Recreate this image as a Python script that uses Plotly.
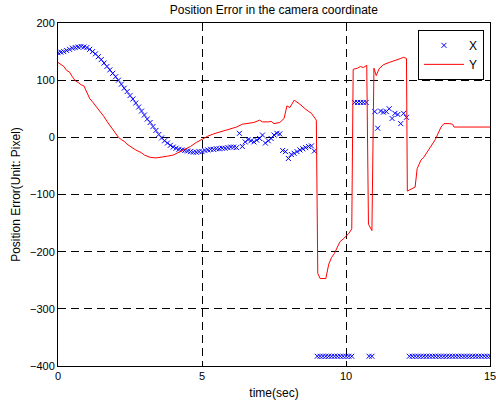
import plotly.graph_objects as go

# X series (blue 'x' markers): time (sec) and position error (pixel)
x_time = [0.0, 0.1, 0.2, 0.3, 0.4, 0.5, 0.6, 0.7, 0.8, 0.9, 1.0, 1.1, 1.2, 1.3, 1.4,
          1.5, 1.6, 1.7, 1.8, 1.9, 2.0, 2.1, 2.2, 2.3, 2.4, 2.5, 2.6, 2.7, 2.8, 2.9,
          3.0, 3.1, 3.2, 3.3, 3.4, 3.5, 3.6, 3.7, 3.8, 3.9, 4.0, 4.1, 4.2, 4.3, 4.4,
          4.5, 4.6, 4.7, 4.8, 4.9, 5.0,
          5.1, 5.2, 5.3, 5.4, 5.5, 5.6, 5.7, 5.8, 5.9, 6.0, 6.1, 6.2, 6.3, 6.4, 6.5,
          6.6, 6.7, 6.8, 6.9, 7.0, 7.1, 7.2, 7.3, 7.4, 7.5, 7.6, 7.7,
          7.8, 7.9, 8.0, 8.1, 8.2, 8.3, 8.4, 8.5, 8.6, 8.7, 8.8, 8.9,
          9.0, 9.1, 9.2, 9.3, 9.4, 9.5, 9.6, 9.7, 9.8, 9.9, 10.0, 10.1, 10.2,
          10.3, 10.4, 10.5, 10.6, 10.7,
          10.8, 10.9,
          11.0, 11.1, 11.2, 11.3, 11.4, 11.5, 11.6, 11.7, 11.8, 11.9, 12.0, 12.1,
          12.2, 12.3, 12.4, 12.5, 12.6, 12.7, 12.8, 12.9, 13.0, 13.1, 13.2, 13.3,
          13.4, 13.5, 13.6, 13.7, 13.8, 13.9, 14.0, 14.1, 14.2, 14.3, 14.4, 14.5,
          14.6, 14.7, 14.8, 14.9, 15.0]
x_error = [148, 149, 150, 152, 154, 156, 157, 158, 159, 158, 157, 154, 150, 146, 141,
           136, 130, 124, 118, 112, 106, 100, 93, 86, 80, 73, 67, 60, 53, 46,
           39, 32, 26, 19, 12, 5, -1, -6, -10, -14, -17, -19, -21, -22, -23,
           -24, -25, -26, -26, -25, -25,
           -23, -22, -21, -21, -20, -20, -19, -19, -18, -17, -17, -18, 7, -16, -8,
           -4, -6, -8, -5, -2, 4, -10, -6, -2, 4, 7, 6,
           -23, -25, -37, -30, -28, -25, -22, -20, -18, -16, -15, -24,
           -383, -383, -383, -383, -383, -383, -383, -383, -383, -383, -383, -383, -383,
           61, 61, 61, 61, 61,
           -383, -383,
           45, 16, 46, 44, 45, 50, 33, 42, 40, 24, 42, 35,
           -383, -383, -383, -383, -383, -383, -383, -383, -383, -383, -383, -383,
           -383, -383, -383, -383, -383, -383, -383, -383, -383, -383, -383, -383,
           -383, -383, -383, -383, -383]

# Y series (red line)
y_time = [0.0, 0.1, 0.2, 0.3, 0.4, 0.5, 0.6, 0.7, 0.8, 0.9, 1.0, 1.1, 1.2, 1.3, 1.4,
          1.5, 1.6, 1.7, 1.8, 1.9, 2.0, 2.1, 2.2, 2.3, 2.4, 2.5, 2.6, 2.7, 2.8, 2.9,
          3.0, 3.1, 3.2, 3.4, 3.6, 3.8, 4.0, 4.2, 4.4, 4.6, 4.8, 5.0, 5.2, 5.4, 5.6,
          5.8, 6.0, 6.2, 6.4, 6.6, 6.8, 7.0, 7.1, 7.3, 7.4, 7.5, 7.7, 7.85, 7.95,
          8.05, 8.2, 8.4, 8.6, 8.8, 8.9, 8.97, 9.02, 9.1, 9.3, 9.4, 9.5, 9.6, 9.7,
          9.8, 9.9, 10.0, 10.1, 10.2, 10.25, 10.4, 10.5, 10.6, 10.72, 10.78, 10.9,
          10.97, 11.05, 11.15, 11.3, 11.5, 11.7, 11.9, 12.0, 12.1, 12.13, 12.3,
          12.4, 12.47, 12.6, 12.7, 12.9, 13.1, 13.3, 13.4, 13.6, 13.7, 13.75, 15.0]
y_error = [131, 128, 124, 117, 114, 106, 99, 96, 92, 90, 80, 68, 62, 56, 48,
           43, 36, 28, 21, 16, 8, 0, -4, -7, -12, -16, -19, -22, -24, -27,
           -31, -33, -35, -36, -35, -33, -31, -26, -21, -16, -9, -3, 2, 6, 9,
           12, 14, 18, 23, 24, 26, 30, 27, 27, 28, 24, 26, 33, 55,
           52, 65, 58, 49, 42, 36, 30, -238, -247, -247, -222, -210, -203, -192,
           -182, -178, -173, -168, -160, 119, 121, 124, 122, 126, -152, -163,
           121, 108, 120, 127, 131, 134, 138, 140, 138, -94, -90,
           -87, -55, -40, -35, -19, -4, 18, 24, 24, 23, 18, 18]

x_ticks = [0, 5, 10, 15]
y_ticks = [-400, -300, -200, -100, 0, 100, 200]

FONT = "Liberation Sans, Arial, Helvetica, sans-serif"

fig = go.Figure()
fig.add_trace(go.Scatter(
    x=x_time, y=x_error, mode="markers", name="X",
    marker=dict(symbol="x-thin", size=5, color="#0000FF",
                line=dict(width=1, color="#0000FF")),
))
fig.add_trace(go.Scatter(
    x=y_time, y=y_error, mode="lines", name="Y",
    line=dict(color="#FF0000", width=1),
))

axis_common = dict(
    showline=True, linecolor="black", linewidth=1, mirror="ticks",
    ticks="inside", ticklen=5, tickcolor="black",
    showgrid=True, gridcolor="black", gridwidth=1, griddash="8px,5px",
    zeroline=False, automargin=False, ticklabeloverflow="allow",
    tickfont=dict(family=FONT, size=11, color="black"),
)

fig.update_xaxes(range=[0, 15], tickvals=x_ticks,
                 title=dict(text="time(sec)", font=dict(family=FONT, size=12, color="black"),
                            standoff=7),
                 **axis_common)
fig.update_yaxes(range=[-400, 200], tickvals=y_ticks,
                 title=dict(text="Position Error(Unit: Pixel)",
                            font=dict(family=FONT, size=12, color="black"), standoff=6),
                 **axis_common)

fig.update_layout(
    width=496, height=404,
    margin=dict(l=58, r=6, t=23, b=38, autoexpand=False),
    paper_bgcolor="white", plot_bgcolor="white",
    title=dict(text="Position Error in the camera coordinate", x=0.552, xanchor="center",
               y=0.985, yanchor="top", automargin=False,
               font=dict(family=FONT, size=12, color="black")),
    showlegend=True,
    legend=dict(x=0.986, y=0.98, xanchor="right", yanchor="top",
                bgcolor="white", bordercolor="black", borderwidth=1,
                font=dict(family=FONT, size=12, color="black"),
                itemwidth=40, tracegroupgap=0),
)

fig.write_html("out.html",
               config={"displayModeBar": False},
               post_script="document.body.style.margin='0';document.body.style.overflow='hidden';")
